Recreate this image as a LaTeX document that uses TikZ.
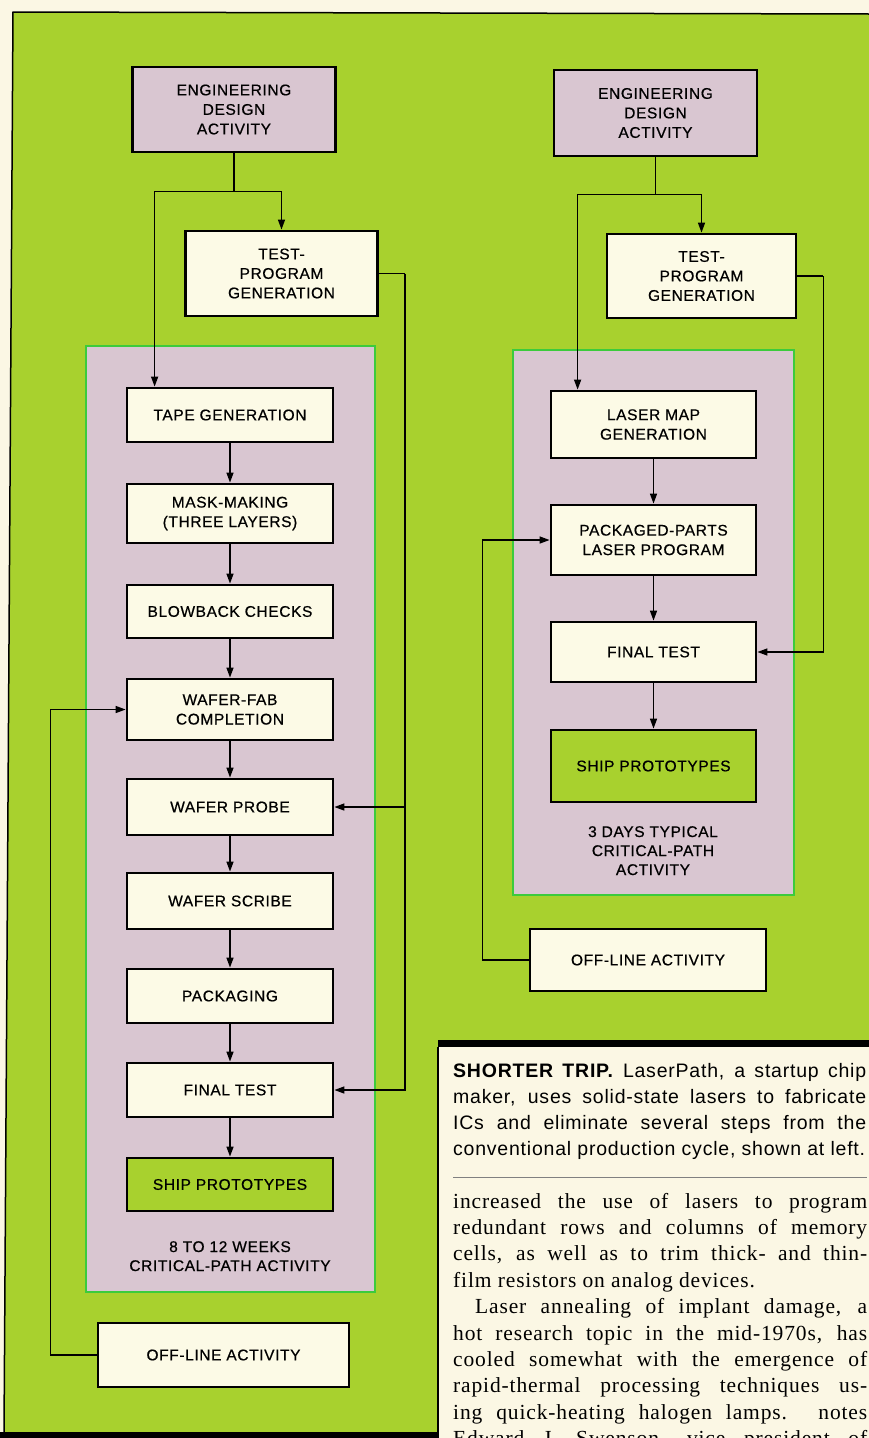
\documentclass[tikz,border=0pt]{standalone}
\usepackage{fontspec}
\usepackage{tikz}
\usetikzlibrary{arrows.meta,positioning}
\setmainfont{Liberation Sans}
\newfontfamily\labelfont[FakeBold=0.6, LetterSpace=4]{Liberation Sans}
\newfontfamily\capfont[LetterSpace=4]{Liberation Sans}
\newfontfamily\bodyfont[LetterSpace=4]{Liberation Serif}
\definecolor{paper}{HTML}{FBF7E4}
\definecolor{leaf}{HTML}{A8D12E}
\definecolor{lilac}{HTML}{D9C6D1}
\definecolor{cream}{HTML}{FCFAE6}
\definecolor{rim}{HTML}{3CCB3C}

\begin{document}
\begin{tikzpicture}[x=1pt, y=-1pt,
  stage/.style={draw, line width=2.8pt, fill=cream, align=center, inner sep=0pt,
    minimum width=206pt, font=\labelfont\fontsize{15.5}{19.5}\selectfont},
  conn/.style={line width=1.4pt},
  arr/.style={conn, -{Triangle[length=10pt, width=7pt]}},
  note/.style={align=center, inner sep=0pt, font=\labelfont\fontsize{15.5}{19}\selectfont}]
  \useasboundingbox (0,0) rectangle (869,1438);

  % Page and green panel
  \fill[paper] (0,0) rectangle (869,1438);
  \fill[leaf] (13,12) -- (869,14) -- (869,1042) -- (438,1042) -- (438,1434) -- (4,1434) -- cycle;
  \draw[line width=1.5pt] (869,14) -- (13,12) -- (4,1434);
  \draw[line width=6pt] (0,1435) -- (438,1435);
  \draw[line width=7pt] (438,1043.5) -- (869,1043.5);
  \draw[line width=1.5pt] (438,1047) -- (438,1438);

  % Critical-path panels
  \draw[rim, fill=lilac, line width=1.3pt] (86,346) rectangle (375,1292);
  \draw[rim, fill=lilac, line width=1.3pt] (513,350) rectangle (794,895);

  % Conventional cycle
  \node[stage, fill=lilac, minimum width=203pt, minimum height=85pt] (leda) at (234,109.5)
    {ENGINEERING\\DESIGN\\ACTIVITY};
  \node[stage, minimum width=192pt, minimum height=85pt] (ltpg) at (281.5,273.5)
    {TEST-\\PROGRAM\\GENERATION};
  \node[stage, minimum height=54pt] (ltape) at (230,415) {TAPE GENERATION};
  \node[stage, minimum height=59pt] (lmask) at (230,513.5) {MASK-MAKING\\(THREE LAYERS)};
  \node[stage, minimum height=53pt] (lblow) at (230,611.5) {BLOWBACK CHECKS};
  \node[stage, minimum height=61pt] (lwfab) at (230,709.5) {WAFER-FAB\\COMPLETION};
  \node[stage, minimum height=56pt] (lprobe) at (230,807) {WAFER PROBE};
  \node[stage, minimum height=56pt] (lscribe) at (230,901) {WAFER SCRIBE};
  \node[stage, minimum height=54pt] (lpack) at (230,996) {PACKAGING};
  \node[stage, minimum height=54pt] (lfinal) at (230,1090) {FINAL TEST};
  \node[stage, fill=leaf, minimum height=53pt] (lship) at (230,1184.5) {SHIP PROTOTYPES};
  \node[note, anchor=north] (lweeks) at (230,1241) {8 TO 12 WEEKS\\CRITICAL-PATH ACTIVITY};
  \node[stage, minimum width=251pt, minimum height=64pt] (loff) at (223.5,1355) {OFF-LINE ACTIVITY};

  \draw[conn] (leda.south) -- ++(0,38) coordinate (lsplit);
  \draw[arr] (lsplit) -| (ltpg.north);
  \draw[arr] (lsplit) -| ([xshift=29pt]ltape.north west);
  \foreach \a/\b in {ltape/lmask, lmask/lblow, lblow/lwfab, lwfab/lprobe,
                     lprobe/lscribe, lscribe/lpack, lpack/lfinal, lfinal/lship}
    \draw[arr] (\a) -- (\b);
  \draw[conn] (ltpg.east) -- ++(26,0) coordinate (lrail);
  \draw[arr] (lrail) |- (lfinal.east);
  \draw[arr] (lrail |- lprobe.east) -- (lprobe.east);
  \draw[arr] (loff.west) -- ++(-46,0) |- (lwfab.west);

  % Laser cycle
  \node[stage, fill=lilac, minimum width=203pt, minimum height=86pt] (reda) at (655.5,113)
    {ENGINEERING\\DESIGN\\ACTIVITY};
  \node[stage, minimum width=189pt, minimum height=84pt] (rtpg) at (701.5,276)
    {TEST-\\PROGRAM\\GENERATION};
  \node[stage, minimum width=205pt, minimum height=67pt] (rmap) at (653.5,424.5) {LASER MAP\\GENERATION};
  \node[stage, minimum width=205pt, minimum height=70pt] (rlaser) at (653.5,540) {PACKAGED-PARTS\\LASER PROGRAM};
  \node[stage, minimum width=205pt, minimum height=60pt] (rfinal) at (653.5,652) {FINAL TEST};
  \node[stage, fill=leaf, minimum width=205pt, minimum height=72pt] (rship) at (653.5,766) {SHIP PROTOTYPES};
  \node[note, anchor=north] (rdays) at (653,826) {3 DAYS TYPICAL\\CRITICAL-PATH\\ACTIVITY};
  \node[stage, minimum width=236pt, minimum height=62pt] (roff) at (648,960) {OFF-LINE ACTIVITY};

  \draw[conn] (reda.south) -- ++(0,37) coordinate (rsplit);
  \draw[arr] (rsplit) -| (rtpg.north);
  \draw[arr] (rsplit) -| ([xshift=28pt]rmap.north west);
  \foreach \a/\b in {rmap/rlaser, rlaser/rfinal, rfinal/rship}
    \draw[arr] (\a) -- (\b);
  \draw[conn] (rtpg.east) -- ++(26,0) coordinate (rrail);
  \draw[arr] (rrail) |- (rfinal.east);
  \draw[arr] (roff.west) -- ++(-46,0) |- (rlaser.west);

  % Caption and column text
  \fill[paper] (439.5,1047) rectangle (869,1438);
  \node[anchor=base west, inner sep=0pt, font=\capfont\fontsize{19.5}{26}\selectfont] (caption)
    at (453,1077) {\parbox[t]{413pt}{%
    \makebox[413pt][s]{\textbf{SHORTER TRIP.} LaserPath, a startup chip}\\
    \makebox[413pt][s]{maker, uses solid-state lasers to fabricate}\\
    \makebox[413pt][s]{ICs and eliminate several steps from the}\\
    conventional production cycle, shown at left.}};
  \draw[gray, line width=0.8pt] (453,1177) -- (867,1177);
  \node[anchor=base west, inner sep=0pt, font=\bodyfont\fontsize{21.5}{26.4}\selectfont] (column)
    at (453,1208) {\parbox[t]{414pt}{%
    \makebox[414pt][s]{increased the use of lasers to program}\\
    \makebox[414pt][s]{redundant rows and columns of memory}\\
    \makebox[414pt][s]{cells, as well as to trim thick- and thin-}\\
    film resistors on analog devices.\\
    \makebox[414pt][s]{\hspace*{22pt}Laser annealing of implant damage, a}\\
    \makebox[414pt][s]{hot research topic in the mid-1970s, has}\\
    \makebox[414pt][s]{cooled somewhat with the emergence of}\\
    \makebox[414pt][s]{rapid-thermal processing techniques us-}\\
    \makebox[414pt][s]{ing quick-heating halogen lamps. notes}\\
    \makebox[414pt][s]{Edward J. Swenson, vice president of}}};
\end{tikzpicture}
\end{document}
